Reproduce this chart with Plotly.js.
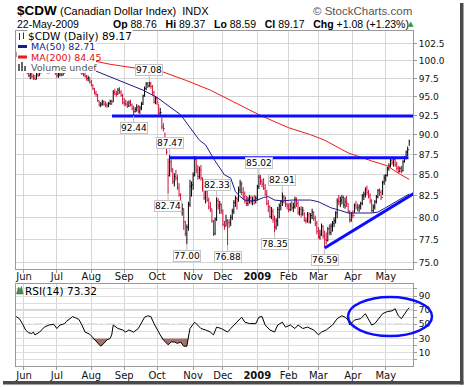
<!DOCTYPE html>
<html><head><meta charset="utf-8">
<script src="https://cdn.plot.ly/plotly-3.0.1.min.js"></script>
<style>html,body{margin:0;padding:0;background:#fff;}#chart{width:464px;height:387px;}</style>
</head><body><div id="chart"></div>
<script>
// ---------------- DATA ----------------
const dates = [
'2008-05-23','2008-05-27','2008-05-28','2008-05-29','2008-05-30',
'2008-06-02','2008-06-03','2008-06-04','2008-06-05','2008-06-06','2008-06-09','2008-06-10','2008-06-11','2008-06-12','2008-06-13','2008-06-16','2008-06-17','2008-06-18','2008-06-19','2008-06-20','2008-06-23','2008-06-24','2008-06-25','2008-06-26','2008-06-27','2008-06-30',
'2008-07-01','2008-07-02','2008-07-03','2008-07-07','2008-07-08','2008-07-09','2008-07-10','2008-07-11','2008-07-14','2008-07-15','2008-07-16','2008-07-17','2008-07-18','2008-07-21','2008-07-22','2008-07-23','2008-07-24','2008-07-25','2008-07-28','2008-07-29','2008-07-30','2008-07-31',
'2008-08-01','2008-08-04','2008-08-05','2008-08-06','2008-08-07','2008-08-08','2008-08-11','2008-08-12','2008-08-13','2008-08-14','2008-08-15','2008-08-18','2008-08-19','2008-08-20','2008-08-21','2008-08-22','2008-08-25','2008-08-26','2008-08-27','2008-08-28','2008-08-29',
'2008-09-02','2008-09-03','2008-09-04','2008-09-05','2008-09-08','2008-09-09','2008-09-10','2008-09-11','2008-09-12','2008-09-15','2008-09-16','2008-09-17','2008-09-18','2008-09-19','2008-09-22','2008-09-23','2008-09-24','2008-09-25','2008-09-26','2008-09-29','2008-09-30',
'2008-10-01','2008-10-02','2008-10-03','2008-10-06','2008-10-07','2008-10-08','2008-10-09','2008-10-10','2008-10-13','2008-10-14','2008-10-15','2008-10-16','2008-10-17','2008-10-20','2008-10-21','2008-10-22','2008-10-23','2008-10-24','2008-10-27','2008-10-28','2008-10-29','2008-10-30','2008-10-31',
'2008-11-03','2008-11-04','2008-11-05','2008-11-06','2008-11-07','2008-11-10','2008-11-11','2008-11-12','2008-11-13','2008-11-14','2008-11-17','2008-11-18','2008-11-19','2008-11-20','2008-11-21','2008-11-24','2008-11-25','2008-11-26','2008-11-28',
'2008-12-01','2008-12-02','2008-12-03','2008-12-04','2008-12-05','2008-12-08','2008-12-09','2008-12-10','2008-12-11','2008-12-12','2008-12-15','2008-12-16','2008-12-17','2008-12-18','2008-12-19','2008-12-22','2008-12-23','2008-12-24','2008-12-26','2008-12-29','2008-12-30','2008-12-31',
'2009-01-02','2009-01-05','2009-01-06','2009-01-07','2009-01-08','2009-01-09','2009-01-12','2009-01-13','2009-01-14','2009-01-15','2009-01-16','2009-01-20','2009-01-21','2009-01-22','2009-01-23','2009-01-26','2009-01-27','2009-01-28','2009-01-29','2009-01-30',
'2009-02-02','2009-02-03','2009-02-04','2009-02-05','2009-02-06','2009-02-09','2009-02-10','2009-02-11','2009-02-12','2009-02-13','2009-02-17','2009-02-18','2009-02-19','2009-02-20','2009-02-23','2009-02-24','2009-02-25','2009-02-26','2009-02-27',
'2009-03-02','2009-03-03','2009-03-04','2009-03-05','2009-03-06','2009-03-09','2009-03-10','2009-03-11','2009-03-12','2009-03-13','2009-03-16','2009-03-17','2009-03-18','2009-03-19','2009-03-20','2009-03-23','2009-03-24','2009-03-25','2009-03-26','2009-03-27','2009-03-30','2009-03-31',
'2009-04-01','2009-04-02','2009-04-03','2009-04-06','2009-04-07','2009-04-08','2009-04-09','2009-04-13','2009-04-14','2009-04-15','2009-04-16','2009-04-17','2009-04-20','2009-04-21','2009-04-22','2009-04-23','2009-04-24','2009-04-27','2009-04-28','2009-04-29','2009-04-30',
'2009-05-01','2009-05-04','2009-05-05','2009-05-06','2009-05-07','2009-05-08','2009-05-11','2009-05-12','2009-05-13','2009-05-14','2009-05-15','2009-05-18','2009-05-19','2009-05-20','2009-05-21','2009-05-22'];

const high = [
101.3,101.0,100.6,100.3,100.4,
99.9,99.3,98.9,98.6,98.4,98.3,98.1,98.0,98.3,98.5,98.8,99.0,99.0,99.2,99.3,99.0,99.0,99.4,99.5,99.2,98.9,
98.6,98.4,98.6,98.7,98.6,99.0,99.4,99.6,99.9,100.3,100.4,100.1,99.8,99.6,99.5,99.0,98.7,98.4,98.3,98.0,97.9,97.7,
97.3,96.7,96.2,95.8,95.4,94.5,94.3,94.6,94.5,94.4,94.2,94.3,94.6,94.6,95.9,96.1,95.8,96.2,96.3,95.9,95.4,
94.8,94.6,94.4,94.5,94.6,94.1,93.8,93.6,94.0,93.9,93.8,94.3,95.3,96.4,97.0,97.0,97.08,97.0,96.6,95.8,95.1,
95.0,94.0,93.5,92.2,91.5,90.3,89.3,87.0,87.47,86.9,85.8,85.2,85.6,85.0,84.0,82.8,81.6,81.0,79.6,79.2,81.8,84.4,84.2,
85.3,87.3,87.2,86.2,86.0,86.2,84.7,83.6,83.5,83.4,82.3,81.8,81.0,79.7,80.0,82.33,82.2,81.9,81.6,
80.9,79.6,80.3,79.8,79.8,80.3,81.0,82.0,82.5,82.4,83.6,84.4,84.2,83.5,83.0,82.5,82.4,82.6,82.5,82.4,82.6,82.5,
83.8,85.02,85.0,84.5,84.6,83.9,83.2,82.0,81.4,81.2,81.0,80.2,79.9,81.2,81.6,82.0,82.91,82.6,82.4,81.7,
81.6,81.7,81.9,81.7,82.4,82.3,81.9,81.2,81.3,81.2,80.6,80.0,80.6,80.6,80.5,81.0,80.7,80.2,79.6,
78.9,78.6,79.3,79.1,78.5,78.3,78.9,79.2,79.3,79.6,80.0,80.7,82.2,82.6,82.4,82.6,82.5,82.3,82.5,81.6,80.8,80.6,
80.8,81.6,81.9,81.6,81.5,81.8,82.7,83.0,83.5,83.7,83.2,82.8,82.1,81.5,82.0,82.6,83.3,83.4,83.2,84.3,85.0,
85.1,86.0,86.4,87.0,87.1,87.2,87.0,86.6,86.1,86.0,86.1,86.8,87.3,88.0,88.5,89.37];

const low = [
100.5,100.2,99.9,99.4,99.5,
98.9,98.4,98.1,97.7,97.4,97.5,97.3,97.3,97.4,97.7,97.9,98.2,98.3,98.4,98.5,98.2,98.2,98.5,98.6,98.3,98.0,
97.6,97.6,97.8,97.8,97.9,98.2,98.6,98.9,99.1,99.5,99.6,99.3,99.0,98.9,98.5,98.2,98.0,97.8,97.6,97.2,97.1,96.8,
96.4,95.9,95.3,95.0,94.3,93.7,93.6,93.8,93.8,93.6,93.5,93.6,93.9,93.9,94.3,95.2,95.0,95.3,95.4,95.0,94.0,
93.8,93.7,93.5,93.6,93.7,93.2,92.44,92.9,93.0,92.8,92.7,93.2,93.9,95.0,95.9,96.2,96.3,96.1,95.2,94.1,94.0,
93.9,92.6,92.5,90.7,90.4,88.6,87.5,82.74,84.8,85.3,83.9,83.6,84.3,83.2,82.4,80.6,80.2,78.6,77.9,77.00,78.5,81.2,82.4,
83.2,84.8,85.2,84.4,84.5,84.3,83.0,82.0,81.6,81.8,80.9,80.6,79.4,77.9,78.0,79.6,80.9,80.4,80.4,
79.0,78.6,79.0,76.88,78.8,79.0,79.7,80.4,81.2,80.9,81.8,82.8,82.6,82.0,81.6,81.3,81.3,81.6,81.5,81.4,81.5,81.6,
81.9,83.3,83.8,83.5,83.2,82.5,81.4,80.6,79.9,79.8,79.4,78.35,78.6,79.0,79.9,80.8,81.3,81.6,81.2,80.9,
80.6,80.7,80.8,80.6,81.0,81.2,80.3,80.2,80.0,80.2,79.5,79.3,79.4,79.3,79.3,79.8,79.6,79.0,78.1,
77.6,77.5,77.9,77.6,76.59,77.0,77.3,78.0,78.0,78.4,78.9,79.3,79.9,81.4,81.2,81.5,81.1,81.0,81.2,80.5,79.4,79.5,
79.9,80.5,80.9,80.7,80.6,80.9,81.4,82.0,82.3,82.6,82.2,81.6,80.6,80.5,80.9,81.6,82.2,82.5,82.0,82.6,83.8,
84.2,84.8,85.5,85.9,86.2,86.0,86.0,85.5,85.2,85.3,85.2,85.4,86.5,86.9,87.3,88.59];

const close = [
100.9,100.4,100.1,99.6,99.9,
99.1,98.6,98.3,97.9,98.1,97.8,97.6,97.4,98.0,97.9,98.5,98.7,98.6,98.9,98.8,98.4,98.7,99.1,98.9,98.5,98.2,
97.9,98.1,98.4,98.0,98.3,98.8,99.1,99.4,99.7,100.0,99.9,99.6,99.3,99.4,98.7,98.4,98.2,98.0,97.8,97.5,97.6,97.0,
96.6,96.1,95.5,95.3,94.5,93.9,94.0,94.3,94.0,93.9,93.8,94.1,94.4,94.3,95.6,95.4,95.3,95.9,95.6,95.2,94.2,
94.1,94.0,93.8,94.2,93.9,93.4,93.0,93.3,93.6,93.1,93.5,94.0,95.1,96.1,96.8,96.5,96.9,96.4,95.6,94.3,94.8,
94.2,92.8,92.9,91.0,90.8,89.0,87.8,84.9,86.6,85.7,84.2,84.8,84.6,83.5,82.6,80.9,81.0,79.5,78.2,78.9,81.5,83.6,83.8,
85.0,86.9,85.6,84.8,85.6,84.6,83.4,82.3,83.1,82.0,81.2,81.0,79.6,78.2,79.8,81.9,81.3,81.5,80.8,
79.2,79.0,79.6,79.4,79.4,80.0,80.7,81.7,82.2,82.1,83.2,83.9,82.9,82.4,81.9,81.6,82.1,82.3,81.8,82.0,81.9,82.2,
83.6,84.7,84.2,83.9,83.4,82.7,81.6,81.2,80.1,80.7,79.8,78.9,79.6,80.9,81.3,81.8,82.4,82.2,81.5,81.3,
80.9,81.4,81.1,81.2,82.1,81.6,80.6,80.9,80.4,80.8,79.7,79.6,80.3,79.5,80.2,80.6,79.9,79.3,78.4,
77.8,78.1,79.0,77.9,77.5,77.4,78.7,78.3,79.0,79.3,79.6,80.5,81.9,81.8,82.0,82.3,81.4,81.8,81.6,80.7,79.7,80.3,
80.2,81.4,81.2,81.1,81.3,81.6,82.5,82.7,83.2,82.9,82.5,81.9,80.8,81.2,81.8,82.4,83.1,82.9,82.3,84.1,84.6,
84.9,85.8,86.1,86.8,86.5,86.9,86.2,85.8,85.4,85.8,85.5,86.6,87.1,87.8,88.09,89.17];

const ma50Dates = ['2008-08-01','2008-08-21','2008-09-18','2008-10-01','2008-10-22','2008-11-07','2008-11-13','2008-11-20','2008-12-02','2008-12-08','2008-12-11','2008-12-16','2008-12-19','2008-12-26','2009-01-02','2009-01-08','2009-01-13','2009-01-20','2009-01-27','2009-02-04','2009-02-23','2009-03-02','2009-03-12','2009-03-20','2009-03-27','2009-04-06','2009-04-20','2009-04-24','2009-05-01','2009-05-12','2009-05-22'];
const ma50Vals = [98.8,97.6,95.9,94.9,92.6,89.3,88.7,87.0,85.0,84.6,83.0,82.4,82.0,81.9,82.0,82.3,82.4,82.0,81.9,82.0,82.0,81.8,81.1,80.8,80.5,80.5,80.5,80.6,81.1,81.9,82.71];

const ma200Dates = ['2008-08-04','2008-08-19','2008-09-18','2008-10-07','2008-10-28','2008-11-18','2008-12-09','2009-01-06','2009-02-02','2009-02-23','2009-03-06','2009-03-27','2009-04-20','2009-05-04','2009-05-13','2009-05-22'];
const ma200Vals = [100.0,99.5,98.8,98.4,97.2,95.9,94.4,92.5,90.9,90.0,89.3,87.7,86.7,86.1,85.2,84.45];

const rsiDates = ['2008-05-23','2008-05-27','2008-05-28','2008-05-30','2008-06-03','2008-06-05','2008-06-09','2008-06-10','2008-06-11','2008-06-16','2008-06-19','2008-06-24','2008-06-27','2008-07-01','2008-07-03','2008-07-09','2008-07-10','2008-07-15','2008-07-16','2008-07-18','2008-07-22','2008-07-24','2008-07-28','2008-07-31','2008-08-05','2008-08-07','2008-08-11','2008-08-13','2008-08-15','2008-08-19','2008-08-20','2008-08-21','2008-08-26','2008-08-29','2008-09-03','2008-09-05','2008-09-10','2008-09-15','2008-09-17','2008-09-19','2008-09-23','2008-09-25','2008-09-29','2008-10-01','2008-10-03','2008-10-07','2008-10-10','2008-10-14','2008-10-16','2008-10-20','2008-10-22','2008-10-24','2008-10-28','2008-10-29','2008-10-30','2008-11-04','2008-11-06','2008-11-10','2008-11-13','2008-11-18','2008-11-20','2008-11-24','2008-11-28','2008-12-04','2008-12-08','2008-12-11','2008-12-16','2008-12-17','2008-12-19','2008-12-24','2008-12-31','2009-01-05','2009-01-07','2009-01-09','2009-01-14','2009-01-20','2009-01-22','2009-01-27','2009-01-29','2009-02-03','2009-02-06','2009-02-10','2009-02-13','2009-02-19','2009-02-25','2009-03-02','2009-03-04','2009-03-09','2009-03-13','2009-03-18','2009-03-23','2009-03-25','2009-03-27','2009-03-30','2009-04-02','2009-04-08','2009-04-14','2009-04-16','2009-04-20','2009-04-22','2009-04-24','2009-04-29','2009-05-04','2009-05-07','2009-05-11','2009-05-13','2009-05-15','2009-05-19','2009-05-21','2009-05-22'];
const rsiVals = [61,59,58,51,42,38,37,39,35,39,46,49,50,44,49,51,54,59,61,59,57,49,39,36,28,23,19,23,28,30,35,49,44,42,39,42,39,44,53,60,62,61,51,42,35,28,21,25,25,23,25,19,19,32,44,53,49,44,42,39,35,46,44,39,44,51,58,60,53,51,51,60,61,49,42,39,49,53,46,49,44,49,44,46,42,35,39,42,49,58,62,60,56,49,56,58,65,58,49,51,56,65,68,69,72,62,58,65,71,73.32];

const tickDates = ['2008-06-02','2008-07-01','2008-08-01','2008-09-02','2008-10-01','2008-11-03','2008-12-01','2009-01-02','2009-02-02','2009-03-02','2009-04-01','2009-05-01'];
const tickLabels = ['Jun','Jul','Aug','Sep','Oct','Nov','Dec','<b>2009</b>','Feb','Mar','Apr','May'];
const priceTicks = [75,77.5,80,82.5,85,87.5,90,92.5,95,97.5,100,102.5];
const priceTickLabels = ['75.0','77.5','80.0','82.5','85.0','87.5','90.0','92.5','95.0','97.5','100.0','102.5'];
const rsiTicks = [0,10,20,30,40,50,60,70,80,90,100];
const rsiTickLabels = ['','10','','30','','50','','70','','90',''];

const labelDates = ['2008-09-24','2008-09-10','2008-10-13','2008-10-10','2008-10-28','2008-11-24','2008-12-04','2009-01-05','2009-01-20','2009-01-27','2009-03-06'];
const labelValues = [97.08,92.44,87.47,82.74,77.00,82.33,76.88,85.02,78.35,82.91,76.59];
const labelSides = ['H','L','H','L','L','H','L','H','L','H','L'];

// ---------------- LAYOUT HELPERS ----------------
const L0=16, R0=413, T0=31, B0=366;
const px = x => (x-L0)/(R0-L0);
const py = y => (B0-y)/(B0-T0);
const open = close.map((c,i)=> i===0 ? c : close[i-1]);

const FONT = 'DejaVu Sans, Verdana, sans-serif';
const AFONT = 'Liberation Sans, Arial, sans-serif';
const BLUE = '#0c0cff';

const traces = [
  {type:'ohlc', x:dates, open:open, high:high, low:low, close:close, xaxis:'x', yaxis:'y',
   increasing:{line:{color:'#000000', width:1}}, decreasing:{line:{color:'#d0103a', width:1}},
   tickwidth:0.45, hoverinfo:'skip', showlegend:false},
  {type:'scatter', mode:'lines', x:ma200Dates, y:ma200Vals, xaxis:'x', yaxis:'y',
   line:{color:'#f01818', width:1}, hoverinfo:'skip', showlegend:false},
  {type:'scatter', mode:'lines', x:ma50Dates, y:ma50Vals, xaxis:'x', yaxis:'y',
   line:{color:'#1c1c8c', width:1}, hoverinfo:'skip', showlegend:false},
  {type:'scatter', mode:'lines', x:rsiDates, y:rsiVals.map(()=>30), xaxis:'x2', yaxis:'y2',
   line:{width:0, color:'rgba(0,0,0,0)'}, hoverinfo:'skip', showlegend:false},
  {type:'scatter', mode:'lines', x:rsiDates, y:rsiVals.map(v=>Math.min(v,30)), xaxis:'x2', yaxis:'y2',
   fill:'tonexty', fillcolor:'#a4716b', line:{width:0, color:'rgba(0,0,0,0)'}, hoverinfo:'skip', showlegend:false},
  {type:'scatter', mode:'lines', x:rsiDates, y:rsiVals, xaxis:'x2', yaxis:'y2',
   line:{color:'#000000', width:1}, hoverinfo:'skip', showlegend:false}
];

const axBase = {
  type:'category', categoryorder:'array', categoryarray:dates, range:[-0.1, 253.4],
  tickmode:'array', tickvals:tickDates, ticktext:tickLabels,
  showgrid:true, gridcolor:'#d6d6d6', gridwidth:1, zeroline:false,
  showline:true, linecolor:'#9a9a9a', linewidth:1, mirror:true,
  ticks:'outside', ticklen:3, tickcolor:'#9a9a9a',
  tickfont:{family:FONT, size:10, color:'#111'}, fixedrange:true
};

const shapes = [
  // opaque legend block (top-left of price panel)
  {type:'rect', xref:'paper', yref:'paper', x0:px(16.5), x1:px(96), y0:py(73), y1:py(31.5), fillcolor:'#fff', line:{width:0}, layer:'above'},
  // drawn trend/resistance lines
  {type:'line', xref:'x', yref:'y', x0:61.2, x1:254, y0:92.44, y1:92.44, line:{color:BLUE, width:3}},
  {type:'line', xref:'x', yref:'y', x0:97.8, x1:250.5, y0:87.1, y1:87.1, line:{color:BLUE, width:3}},
  {type:'line', xref:'x', yref:'y', x0:197, x1:254.7, y0:76.59, y1:82.86, line:{color:BLUE, width:3}},
  // RSI reference lines
  {type:'line', xref:'paper', yref:'y2', x0:0, x1:1, y0:70, y1:70, layer:'between', line:{color:'#808080', width:1}},
  {type:'line', xref:'paper', yref:'y2', x0:0, x1:1, y0:30, y1:30, layer:'between', line:{color:'#808080', width:1}},
  {type:'line', xref:'paper', yref:'y2', x0:0, x1:1, y0:50, y1:50, layer:'between', line:{color:'#808080', width:1, dash:'dashdot'}},
  // RSI ellipse
  {type:'circle', xref:'paper', yref:'paper', x0:px(348), x1:px(432), y0:py(336), y1:py(297), line:{color:BLUE, width:2.5}},
  // legend icons
  {type:'line', xref:'paper', yref:'paper', x0:px(19.5), x1:px(19.5), y0:py(40), y1:py(33), line:{color:'#333', width:1}},
  {type:'line', xref:'paper', yref:'paper', x0:px(23.5), x1:px(23.5), y0:py(39), y1:py(32.5), line:{color:'#333', width:1}},
  {type:'line', xref:'paper', yref:'paper', x0:px(18), x1:px(27), y0:py(46.5), y1:py(46.5), line:{color:'#1c1c8c', width:3}},
  {type:'line', xref:'paper', yref:'paper', x0:px(18), x1:px(27), y0:py(57), y1:py(57), line:{color:'#f01818', width:3}},
  {type:'rect', xref:'paper', yref:'paper', x0:px(18), x1:px(20), y0:py(71), y1:py(64), fillcolor:'#666', line:{width:0}},
  {type:'rect', xref:'paper', yref:'paper', x0:px(21), x1:px(23), y0:py(71), y1:py(62), fillcolor:'#666', line:{width:0}},
  {type:'rect', xref:'paper', yref:'paper', x0:px(24), x1:px(26), y0:py(71), y1:py(66), fillcolor:'#666', line:{width:0}},
  {type:'path', xref:'paper', yref:'paper',
   path:'M '+px(16.5)+' '+py(294)+' L '+px(18.5)+' '+py(287)+' L '+px(20)+' '+py(290)+' L '+px(21.5)+' '+py(286.5)+' L '+px(23)+' '+py(294)+' Z',
   fillcolor:'#4c8a4c', line:{color:'#2f5f2f', width:0.5}},
  // drop shadow frame
  {type:'rect', xref:'paper', yref:'paper', x0:px(460), x1:px(463.5), y0:py(384.5), y1:py(3), fillcolor:'#4a4a4a', line:{width:0}},
  {type:'rect', xref:'paper', yref:'paper', x0:px(3), x1:px(463.5), y0:py(384.5), y1:py(381), fillcolor:'#4a4a4a', line:{width:0}}
];

const annotations = [];
function txt(text, x, y, opts){
  annotations.push(Object.assign({xref:'paper', yref:'paper', x:px(x), y:py(y), text:text, showarrow:false,
    xanchor:'left', yanchor:'middle', font:{family:AFONT, size:11, color:'#000'}}, opts||{}));
}
txt('<b>$CDW</b>', 14.5, 10.5, {font:{family:AFONT, size:13.5, color:'#000'}});
txt('(Canadian Dollar Index)  INDX', 57.5, 11, {font:{family:AFONT, size:11, color:'#000'}});
txt('© StockCharts.com', 414, 11, {xanchor:'right', font:{family:AFONT, size:11.5, color:'#555'}});
txt('22-May-2009', 15, 24, {font:{family:AFONT, size:10.5, color:'#000'}});
txt('<b>Op</b> 88.76   <b>Hi</b> 89.37   <b>Lo</b> 88.59   <b>Cl</b> 89.17   <b>Chg</b> +1.08 (+1.23%)', 111, 24, {font:{family:AFONT, size:10.5, color:'#000'}});
txt('▲', 406, 24.5, {font:{family:FONT, size:7, color:'#2e9a2e'}});
txt('$CDW (Daily) 89.17', 27, 36, {bgcolor:'#fff', borderpad:0, font:{family:FONT, size:10.5, color:'#000'}});
txt('MA(50) 82.71', 28.5, 46.5, {font:{family:FONT, size:9.5, color:'#1c1c8c'}});
txt('MA(200) 84.45', 28.5, 57, {font:{family:FONT, size:9.5, color:'#e01010'}});
txt('Volume undef', 28.5, 67.5, {font:{family:FONT, size:9.5, color:'#555'}});
txt('RSI(14) 73.32', 23, 290.5, {font:{family:FONT, size:10.5, color:'#000'}});

labelDates.forEach((d,k)=>{
  const up = labelSides[k]==='H';
  annotations.push({xref:'x', yref:'y', x:d, y:Math.log10(labelValues[k]), text:labelValues[k].toFixed(2),
    showarrow:true, arrowhead:0, arrowwidth:1, arrowcolor:'#bdbdbd', standoff:0, startstandoff:0,
    ax:0, ay: up ? -12 : 12, bgcolor:'#fff', bordercolor:'#c4c4c4', borderwidth:1, borderpad:0,
    font:{family:FONT, size:9, color:'#000'}});
});

const layout = {
  width:464, height:387, margin:{l:16, r:51, t:31, b:21, pad:0},
  paper_bgcolor:'#fff', plot_bgcolor:'#fff', showlegend:false, dragmode:false,
  xaxis:Object.assign({}, axBase, {anchor:'y', domain:[0,1], rangeslider:{visible:false}, ticklabelstandoff:-5}),
  xaxis2:Object.assign({}, axBase, {anchor:'y2', domain:[0,1], ticklabelstandoff:-3}),
  yaxis:{type:'log', domain:[(B0-269)/(B0-T0), 1], range:[Math.log10(74.33), Math.log10(104.33)], side:'right',
    tickmode:'array', tickvals:priceTicks, ticktext:priceTickLabels, anchor:'x',
    showgrid:true, gridcolor:'#d6d6d6', zeroline:false, showline:true, linecolor:'#9a9a9a', mirror:true,
    ticks:'outside', ticklen:3, tickcolor:'#9a9a9a', tickfont:{family:FONT, size:9, color:'#111'}, fixedrange:true},
  yaxis2:{domain:[0,(B0-284)/(B0-T0)], range:[-9,107], side:'right', anchor:'x2',
    tickmode:'array', tickvals:rsiTicks, ticktext:rsiTickLabels,
    showgrid:true, gridcolor:'#dedede', zeroline:false, showline:true, linecolor:'#9a9a9a', mirror:true,
    ticks:'outside', ticklen:3, tickcolor:'#9a9a9a', tickfont:{family:FONT, size:9, color:'#111'}, fixedrange:true},
  shapes:shapes, annotations:annotations
};

Plotly.newPlot('chart', traces, layout, {displayModeBar:false, staticPlot:true});
</script></body></html>
